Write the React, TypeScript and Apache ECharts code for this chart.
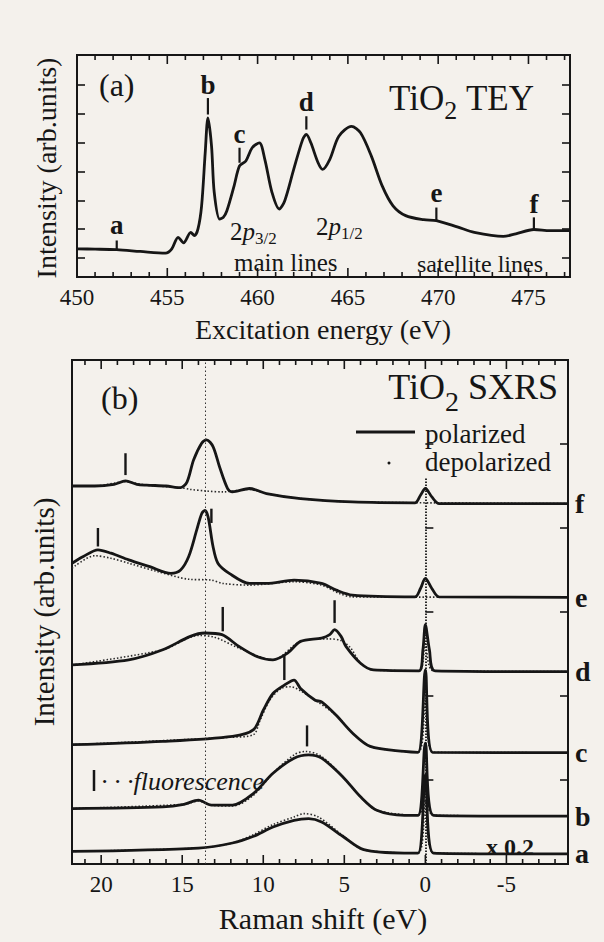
import React, { useEffect, useRef } from 'react';
import * as echarts from 'echarts';

const INK = '#161616';
const PAPER = '#f4f1ec';
const SERIF = "'Liberation Serif', 'DejaVu Serif', serif";

// ---------- Panel (a): TiO2 TEY ----------
const teySpectrum: [number, number][] = [
  [450.0, 0.32], [451.0, 0.31], [452.2, 0.29], [453.5, 0.23], [454.9, 0.17], [455.25, 0.32],
  [455.6, 0.72], [455.9, 0.53], [456.3, 0.89], [456.5, 0.78], [456.7, 1.01], [456.9, 1.81],
  [457.1, 3.65], [457.25, 4.85], [457.45, 3.88], [457.6, 2.27], [457.9, 1.35], [458.1, 1.41],
  [458.3, 1.64], [458.7, 2.5], [459.0, 3.19], [459.35, 3.36], [459.7, 3.82], [460.1, 3.99],
  [460.4, 3.42], [460.8, 2.27], [461.2, 1.7], [461.5, 1.98], [462.0, 3.07], [462.5, 4.11],
  [462.7, 4.28], [462.95, 3.99], [463.35, 3.3], [463.6, 3.07], [464.0, 3.42], [464.5, 4.22],
  [465.2, 4.56], [465.7, 4.34], [466.3, 3.53], [466.9, 2.5], [467.5, 1.81], [468.2, 1.47],
  [469.2, 1.33], [469.9, 1.3], [471.1, 1.07], [472.0, 0.89], [473.6, 0.75], [474.3, 0.84],
  [475.3, 0.99], [476.2, 0.95], [477.3, 0.95],
];
const teyMarkLabels = ['a', 'b', 'c', 'd', 'e', 'f'];
const teyMarkEnergy = [452.2, 457.25, 459.0, 462.7, 469.9, 475.3];
const teyMarkLow = [0.28, 4.97, 3.3, 4.45, 1.3, 1.01];
const teyMarkHigh = [0.61, 5.54, 3.82, 4.91, 1.75, 1.41];
const teyMarkLabelY = [1.16, 6.0, 4.28, 5.4, 2.27, 1.87];
const teyTickLabels = [450, 455, 460, 465, 470, 475];

// ---------- Panel (b): TiO2 SXRS ----------
const fPolarized: [number, number][] = [
  [21.8, 4.5], [20.4, 4.5], [19.2, 4.52], [18.5, 4.56], [17.8, 4.52], [17.2, 4.51], [16.0, 4.5],
  [15.1, 4.48], [14.7, 4.55], [14.3, 4.81], [13.8, 5.01], [13.5, 5.05], [13.1, 4.97], [12.7, 4.73],
  [12.2, 4.47], [11.9, 4.43], [10.85, 4.47], [9.8, 4.41], [7.7, 4.35], [4.5, 4.31], [0.65, 4.3],
  [0.3, 4.39], [0, 4.47], [-0.4, 4.37], [-0.85, 4.29], [-8.8, 4.29],
];
const fDepolarized: [number, number][] = [
  [21.8, 4.5], [20.4, 4.5], [18.5, 4.55], [17.2, 4.51], [15.1, 4.48], [14.5, 4.46], [13.5, 4.44],
  [12.5, 4.43], [10.85, 4.46], [9.8, 4.41], [7.7, 4.35], [4.5, 4.31], [-8.8, 4.29],
];
const ePolarized: [number, number][] = [
  [21.8, 3.58], [21.1, 3.66], [20.2, 3.74], [19.4, 3.7], [18.3, 3.62], [17.0, 3.54], [15.7, 3.46],
  [15.1, 3.5], [14.6, 3.66], [14.1, 3.98], [13.8, 4.17], [13.6, 4.21], [13.4, 4.13], [13.1, 3.78],
  [12.8, 3.58], [12.1, 3.46], [10.85, 3.34], [9.8, 3.34], [8.1, 3.38], [6.4, 3.34], [5.5, 3.26],
  [4.5, 3.2], [0.65, 3.18], [0.3, 3.28], [0, 3.4], [-0.4, 3.28], [-0.85, 3.18], [-8.8, 3.175],
];
const eDepolarized: [number, number][] = [
  [21.8, 3.52], [20.4, 3.67], [19.4, 3.64], [18.3, 3.58], [16.5, 3.48], [14.6, 3.39], [13.2, 3.38],
  [12.5, 3.34], [10.85, 3.32], [8.1, 3.36], [6.4, 3.32], [5.3, 3.22], [4.5, 3.18], [-8.8, 3.175],
];
const dPolarized: [number, number][] = [
  [21.8, 2.37], [18.3, 2.43], [16.2, 2.55], [14.5, 2.71], [13.6, 2.75], [12.55, 2.73], [11.5, 2.59],
  [10.4, 2.47], [9.4, 2.43], [8.5, 2.51], [7.7, 2.65], [6.4, 2.69], [5.9, 2.73], [5.6, 2.79],
  [5.2, 2.71], [4.9, 2.59], [4.0, 2.39], [3.2, 2.31], [0.4, 2.3], [0.15, 2.55], [0, 2.85],
  [-0.25, 2.55], [-0.6, 2.3], [-8.8, 2.29],
];
const dDepolarized: [number, number][] = [
  [21.8, 2.37], [16.2, 2.55], [14.0, 2.72], [13.0, 2.7], [11.5, 2.57], [9.4, 2.43], [7.7, 2.65],
  [6.0, 2.68], [5.2, 2.66], [4.6, 2.57], [4.0, 2.39], [3.2, 2.31], [0.4, 2.3], [0, 2.62],
  [-0.5, 2.3], [-8.8, 2.29],
];
const cPolarized: [number, number][] = [
  [21.8, 1.42], [16.2, 1.46], [11.9, 1.52], [10.6, 1.6], [10.0, 1.83], [9.4, 2.03], [8.7, 2.13],
  [8.1, 2.19], [7.7, 2.09], [6.8, 1.95], [6.4, 1.93], [5.5, 1.77], [4.5, 1.56], [3.4, 1.4],
  [1.3, 1.34], [0.45, 1.33], [0, 2.31], [-0.45, 1.33], [-8.8, 1.325],
];
const cDepolarized: [number, number][] = [
  [21.8, 1.42], [11.9, 1.51], [10.6, 1.54], [10.2, 1.71], [9.6, 1.95], [8.9, 2.09], [8.3, 2.11],
  [7.6, 2.05], [6.8, 1.95], [5.5, 1.77], [4.5, 1.56], [3.4, 1.4], [0.45, 1.33], [0, 1.95],
  [-0.45, 1.33], [-8.8, 1.325],
];
const bPolarized: [number, number][] = [
  [21.8, 0.66], [16.2, 0.68], [14.9, 0.71], [14.0, 0.76], [13.2, 0.7], [11.9, 0.7], [10.6, 0.84],
  [9.4, 1.08], [8.1, 1.26], [7.2, 1.3], [6.4, 1.26], [5.1, 1.04], [4.0, 0.8], [3.0, 0.64],
  [1.3, 0.58], [0.45, 0.58], [0, 1.44], [-0.5, 0.58], [-8.8, 0.57],
];
const bDepolarized: [number, number][] = [
  [21.8, 0.66], [14.9, 0.71], [14.0, 0.75], [13.2, 0.7], [11.9, 0.69], [10.6, 0.82], [9.4, 1.08],
  [8.1, 1.3], [7.4, 1.34], [6.4, 1.28], [5.1, 1.04], [4.0, 0.8], [3.0, 0.64], [0.45, 0.58],
  [0, 0.92], [-0.5, 0.58], [-8.8, 0.57],
];
const aPolarized: [number, number][] = [
  [21.8, 0.15], [14.0, 0.19], [11.9, 0.25], [10.6, 0.33], [9.4, 0.44], [8.1, 0.52], [7.2, 0.54],
  [6.4, 0.5], [5.1, 0.33], [3.8, 0.17], [1.3, 0.13], [0.45, 0.13], [0, 1.06], [-0.5, 0.13],
  [-8.8, 0.12],
];
const aDepolarized: [number, number][] = [
  [21.8, 0.15], [14.0, 0.19], [11.9, 0.25], [10.6, 0.35], [9.4, 0.47], [8.1, 0.56], [7.5, 0.6],
  [6.6, 0.56], [5.1, 0.34], [3.8, 0.17], [0.45, 0.13], [0, 0.76], [-0.5, 0.13], [-8.8, 0.12],
];
const sxrsLabels = ['f', 'e', 'd', 'c', 'b', 'a'];
const sxrsPolarized = [fPolarized, ePolarized, dPolarized, cPolarized, bPolarized, aPolarized];
const sxrsDepolarized = [fDepolarized, eDepolarized, dDepolarized, cDepolarized, bDepolarized, aDepolarized];
// fluorescence markers (Raman shift, bottom, top)
const fluorShift = [18.5, 20.2, 13.2, 12.5, 5.6, 8.7, 7.3];
const fluorLow = [4.63, 3.78, 4.06, 2.77, 2.87, 2.19, 1.4];
const fluorHigh = [4.89, 4.0, 4.23, 3.06, 3.14, 2.49, 1.65];
const ramanTickLabels = [20, 15, 10, 5, 0, -5];

const A_X = [450, 477.3];
const A_Y = [-0.654, 7.03];
const B_X = [-8.8, 21.8];
const B_Y = [0, 6];

function intRange(a: number, b: number) {
  const r: number[] = [];
  for (let v = a; v <= b; v++) r.push(v);
  return r;
}

function tickSeries(xIdx: number, yIdx: number, values: number[], yMin: number, yMax: number) {
  return {
    type: 'custom',
    xAxisIndex: xIdx,
    yAxisIndex: yIdx,
    silent: true,
    z: 6,
    data: values.map((v) => [v, Math.abs(v % 5) === 0 ? 9 : 5]),
    renderItem: (params: any, api: any) => {
      const x = api.value(0);
      const len = api.value(1);
      const b = api.coord([x, yMin]);
      const t = api.coord([x, yMax]);
      const st = { stroke: INK, lineWidth: 1.6 };
      return {
        type: 'group',
        children: [
          { type: 'line', shape: { x1: b[0], y1: b[1], x2: b[0], y2: b[1] - len }, style: st },
          { type: 'line', shape: { x1: t[0], y1: t[1], x2: t[0], y2: t[1] + len }, style: st },
        ],
      };
    },
  };
}

function yAxisDef(grid: number, pos: string, range: number[], ticks: number[]) {
  return {
    type: 'value',
    gridIndex: grid,
    position: pos,
    min: range[0],
    max: range[1],
    axisLine: { show: false },
    axisLabel: { show: false },
    splitLine: { show: false },
    axisTick: { show: true, inside: true, length: 8, lineStyle: { color: INK, width: 1.6 }, customValues: ticks },
  };
}

function buildOption(): any {
  const series: any[] = [];

  series.push({
    type: 'line',
    name: 'TEY',
    xAxisIndex: 0,
    yAxisIndex: 0,
    data: teySpectrum,
    showSymbol: false,
    smooth: 0.3,
    lineStyle: { color: INK, width: 2.8 },
    z: 3,
  });

  series.push({
    type: 'custom',
    xAxisIndex: 0,
    yAxisIndex: 0,
    silent: true,
    z: 5,
    data: teyMarkEnergy.map((e, i) => [e, teyMarkLow[i], teyMarkHigh[i], teyMarkLabelY[i]]),
    renderItem: (params: any, api: any) => {
      const lo = api.coord([api.value(0), api.value(1)]);
      const hi = api.coord([api.value(0), api.value(2)]);
      const lab = api.coord([api.value(0), api.value(3)]);
      return {
        type: 'group',
        children: [
          { type: 'line', shape: { x1: lo[0], y1: lo[1], x2: hi[0], y2: hi[1] }, style: { stroke: INK, lineWidth: 2.2 } },
          {
            type: 'text',
            x: lab[0],
            y: lab[1],
            style: {
              text: teyMarkLabels[params.dataIndex],
              fill: INK,
              fontFamily: SERIF,
              fontWeight: 'bold',
              fontSize: 27,
              align: 'center',
              verticalAlign: 'middle',
            },
          },
        ],
      };
    },
  });

  series.push(tickSeries(0, 0, intRange(451, 477), A_Y[0], A_Y[1]));
  series.push(tickSeries(1, 2, intRange(-8, 21), B_Y[0], B_Y[1]));

  sxrsLabels.forEach((lab, i) => {
    series.push({
      type: 'line',
      name: 'depolarized',
      xAxisIndex: 1,
      yAxisIndex: 2,
      data: sxrsDepolarized[i],
      showSymbol: false,
      smooth: 0.3,
      lineStyle: { color: '#2a2a2a', width: 1.6, type: [1.5, 2] },
      z: 3,
    });
    series.push({
      type: 'line',
      name: 'polarized',
      xAxisIndex: 1,
      yAxisIndex: 2,
      data: sxrsPolarized[i],
      showSymbol: false,
      smooth: 0.3,
      lineStyle: { color: INK, width: 2.8 },
      z: 4,
      markLine:
        i === 0
          ? {
              silent: true,
              symbol: ['none', 'none'],
              label: { show: false },
              data: [
                [
                  { coord: [13.6, B_Y[0]], lineStyle: { color: '#333', width: 1, type: [1.5, 2.5] } },
                  { coord: [13.6, B_Y[1]] },
                ],
                [
                  { coord: [0, B_Y[0]], lineStyle: { color: INK, width: 1.8, type: [1.5, 1.5] } },
                  { coord: [0, 4.6] },
                ],
              ],
            }
          : undefined,
    });
  });

  // spectrum letters at the right end of each polarized curve
  series.push({
    type: 'custom',
    xAxisIndex: 1,
    yAxisIndex: 2,
    silent: true,
    z: 6,
    data: sxrsPolarized.map((s) => s[s.length - 1]),
    renderItem: (params: any, api: any) => {
      const p = api.coord([api.value(0), api.value(1)]);
      return {
        type: 'text',
        x: p[0] + 7,
        y: p[1],
        style: {
          text: sxrsLabels[params.dataIndex],
          fill: INK,
          fontFamily: SERIF,
          fontWeight: 'bold',
          fontSize: 28,
          align: 'left',
          verticalAlign: 'middle',
        },
      };
    },
  });

  series.push({
    type: 'custom',
    xAxisIndex: 1,
    yAxisIndex: 2,
    silent: true,
    z: 5,
    data: fluorShift.map((s, i) => [s, fluorLow[i], fluorHigh[i]]),
    renderItem: (params: any, api: any) => {
      const lo = api.coord([api.value(0), api.value(1)]);
      const hi = api.coord([api.value(0), api.value(2)]);
      return { type: 'line', shape: { x1: lo[0], y1: lo[1], x2: hi[0], y2: hi[1] }, style: { stroke: INK, lineWidth: 2.4 } };
    },
  });

  const txt = (x: number, y: number, text: string, extra: any = {}) => ({
    type: 'text',
    x,
    y,
    silent: true,
    style: { text, fill: INK, fontFamily: SERIF, fontSize: 25, align: 'left', verticalAlign: 'middle', ...extra },
  });

  const subRich = (main: number, sub: number, drop: number) => ({
    m: { fontSize: main, fontFamily: SERIF, fill: INK },
    i: { fontSize: main, fontFamily: SERIF, fill: INK, fontStyle: 'italic' },
    s: { fontSize: sub, fontFamily: SERIF, fill: INK, padding: [drop * 2, 0, 0, 0] },
  });

  const graphic: any[] = [
    txt(99, 85, '(a)', { fontSize: 32 }),
    txt(534, 98, '{m|TiO}{s|2}{m| TEY}', { align: 'right', rich: subRich(35, 26, 12) }),
    txt(230, 231, '{m|2}{i|p}{s|3/2}', { rich: subRich(25, 17, 7) }),
    txt(316, 226, '{m|2}{i|p}{s|1/2}', { rich: subRich(25, 17, 7) }),
    txt(234, 262, 'main lines', { fontSize: 25 }),
    txt(417, 264, 'satellite lines', { fontSize: 24 }),
    txt(323, 329, 'Excitation energy (eV)', { fontSize: 28, align: 'center' }),
    {
      type: 'text',
      x: 46,
      y: 168,
      rotation: Math.PI / 2,
      silent: true,
      style: { text: 'Intensity (arb.units)', fill: INK, fontFamily: SERIF, fontSize: 28, align: 'center', verticalAlign: 'middle' },
    },
    // panel (b)
    txt(101, 398, '(b)', { fontSize: 32 }),
    txt(558, 387, '{m|TiO}{s|2}{m| SXRS}', { align: 'right', rich: subRich(36, 28, 14) }),
    { type: 'line', silent: true, shape: { x1: 356, y1: 432, x2: 415, y2: 432 }, style: { stroke: INK, lineWidth: 3 } },
    txt(425, 434, 'polarized', { fontSize: 27 }),
    { type: 'circle', silent: true, shape: { cx: 389, cy: 463, r: 1.5 }, style: { fill: INK } },
    txt(425, 462, 'depolarized', { fontSize: 27 }),
    { type: 'line', silent: true, shape: { x1: 94, y1: 770, x2: 94, y2: 791 }, style: { stroke: INK, lineWidth: 2.5 } },
    txt(101, 781, '· · ·fluorescence', { fontSize: 26, fontStyle: 'italic' }),
    txt(510, 847, 'x 0.2', { fontSize: 24, fontWeight: 'bold', align: 'center' }),
    txt(323, 918, 'Raman shift (eV)', { fontSize: 30, align: 'center' }),
    {
      type: 'text',
      x: 44,
      y: 612,
      rotation: Math.PI / 2,
      silent: true,
      style: { text: 'Intensity (arb.units)', fill: INK, fontFamily: SERIF, fontSize: 29, align: 'center', verticalAlign: 'middle' },
    },
  ];

  return {
    animation: false,
    backgroundColor: PAPER,
    textStyle: { fontFamily: SERIF, color: INK },
    grid: [
      { left: 77, width: 493, top: 55, height: 222, show: true, borderColor: INK, borderWidth: 2, backgroundColor: 'transparent', containLabel: false },
      { left: 72, width: 496, top: 360, height: 504, show: true, borderColor: INK, borderWidth: 2, backgroundColor: 'transparent', containLabel: false },
    ],
    xAxis: [
      {
        type: 'value',
        gridIndex: 0,
        min: A_X[0],
        max: A_X[1],
        axisLine: { show: false },
        axisTick: { show: false },
        splitLine: { show: false },
        axisLabel: { customValues: teyTickLabels, fontSize: 23, color: INK, fontFamily: SERIF, margin: 9 },
      },
      {
        type: 'value',
        gridIndex: 1,
        min: B_X[0],
        max: B_X[1],
        inverse: true,
        axisLine: { show: false },
        axisTick: { show: false },
        splitLine: { show: false },
        axisLabel: { customValues: ramanTickLabels, fontSize: 23, color: INK, fontFamily: SERIF, margin: 9 },
      },
    ],
    yAxis: [
      yAxisDef(0, 'left', A_Y, [0, 1, 2, 3, 4, 5, 6]),
      yAxisDef(0, 'right', A_Y, [0, 1, 2, 3, 4, 5, 6]),
      yAxisDef(1, 'left', B_Y, [1, 2, 3, 4, 5]),
      yAxisDef(1, 'right', B_Y, [1, 2, 3, 4, 5]),
    ],
    series,
    graphic,
  };
}

export default function App() {
  const ref = useRef<HTMLDivElement>(null);
  useEffect(() => {
    if (!ref.current) return;
    const chart = echarts.init(ref.current, null, { renderer: 'svg', width: 604, height: 942 });
    chart.setOption(buildOption());
    return () => chart.dispose();
  }, []);
  return <div ref={ref} style={{ position: 'absolute', left: 0, top: 0, width: 604, height: 942 }} />;
}
